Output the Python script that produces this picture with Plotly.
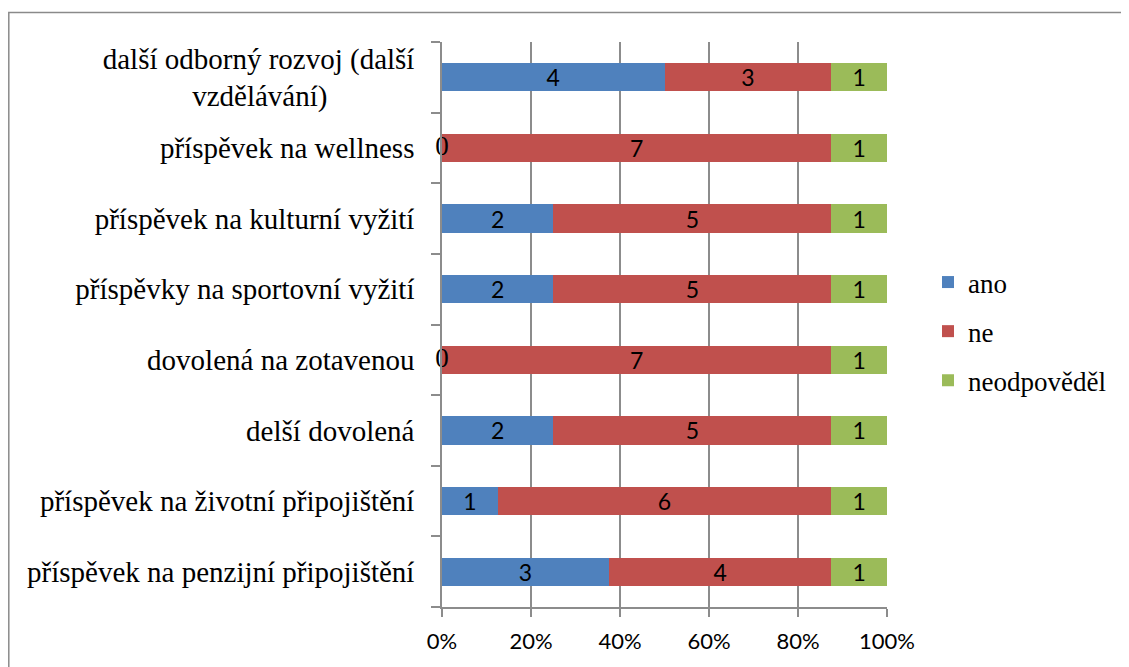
import plotly.graph_objects as go

categories = [
    "příspěvek na penzijní připojištění",
    "příspěvek na životní připojištění",
    "delší dovolená",
    "dovolená na zotavenou",
    "příspěvky na sportovní vyžití",
    "příspěvek na kulturní vyžití",
    "příspěvek na wellness",
    "další odborný rozvoj (další<br>vzdělávání)" + "&nbsp;" * 12,
]
ano = [3, 1, 2, 0, 2, 2, 0, 4]
ne = [4, 6, 5, 7, 5, 5, 7, 3]
neodpovedel = [1, 1, 1, 1, 1, 1, 1, 1]

series = [("ano", ano, "#4F81BD"), ("ne", ne, "#C0504D"), ("neodpověděl", neodpovedel, "#9BBB59")]

SERIF = "Liberation Serif"
SANS = "Lato"

# page is rendered with the default 8px body margin
OFF = 8
W, H = 1129, 667
ML, MT = 442 - OFF, 42 - OFF
PW, PH = 445, 565
MR, MB = W - ML - PW, H - MT - PH

fig = go.Figure()
for name, vals, color in series:
    fig.add_trace(go.Bar(
        y=categories, x=vals, name=name, orientation="h",
        marker=dict(color=color, line=dict(width=0)),
        text=[str(v) if v > 0 else "" for v in vals],
        textposition="inside", insidetextanchor="middle", textangle=0,
        constraintext="none",
        textfont=dict(family=SANS, size=23, color="black"),
        legendgroup=name,
        hoverinfo="skip",
    ))

# zero labels at the start of the bar
zero_y = [c for c, v in zip(categories, ano) if v == 0]
fig.add_trace(go.Scatter(
    y=zero_y, x=[0] * len(zero_y), mode="text", text=["0"] * len(zero_y),
    textposition="middle center",
    textfont=dict(family=SERIF, size=27, color="black"),
    showlegend=False, cliponaxis=False, hoverinfo="skip",
))

def px_to_paper_x(px):
    return (px - OFF - ML) / PW

def px_to_paper_y(py):
    return 1 - (py - OFF - MT) / PH

fig.add_shape(type="rect", xref="paper", yref="paper",
              x0=px_to_paper_x(8.8), x1=px_to_paper_x(1160),
              y0=px_to_paper_y(720), y1=px_to_paper_y(12.5),
              line=dict(color="#8a8a8a", width=1.5), layer="below")

fig.update_layout(
    width=W, height=H,
    margin=dict(l=ML, r=MR, t=MT, b=MB, autoexpand=False),
    barmode="stack", barnorm="percent", bargap=0.6,
    plot_bgcolor="white", paper_bgcolor="white",
    legend=dict(
        x=px_to_paper_x(928), y=px_to_paper_y(258), xanchor="left", yanchor="top",
        traceorder="grouped", tracegroupgap=11,
        font=dict(family=SERIF, size=27, color="black"),
        bgcolor="rgba(0,0,0,0)",
    ),
    xaxis=dict(
        range=[0, 100], tickvals=[0, 20, 40, 60, 80, 100],
        ticktext=["0%", "20%", "40%", "60%", "80%", "100%"],
        showgrid=True, gridcolor="#8c8c8c", gridwidth=1.5,
        showline=True, linecolor="#8c8c8c", linewidth=1.5,
        ticks="outside", ticklen=8, tickcolor="#8c8c8c", tickwidth=1.5,
        tickfont=dict(family=SANS, size=22, color="black"),
        ticklabelstandoff=6,
        zeroline=False, fixedrange=True, automargin=False,
    ),
    yaxis=dict(
        type="category", categoryorder="array", categoryarray=categories,
        showline=True, linecolor="#8c8c8c", linewidth=1.5,
        ticks="outside", ticklen=9, tickcolor="#8c8c8c", tickwidth=1.5,
        tickson="boundaries",
        tickfont=dict(family=SERIF, size=29, color="black"),
        ticklabelstandoff=20,
        showgrid=False, fixedrange=True, automargin=False,
    ),
)

fig.write_html("out.html")
